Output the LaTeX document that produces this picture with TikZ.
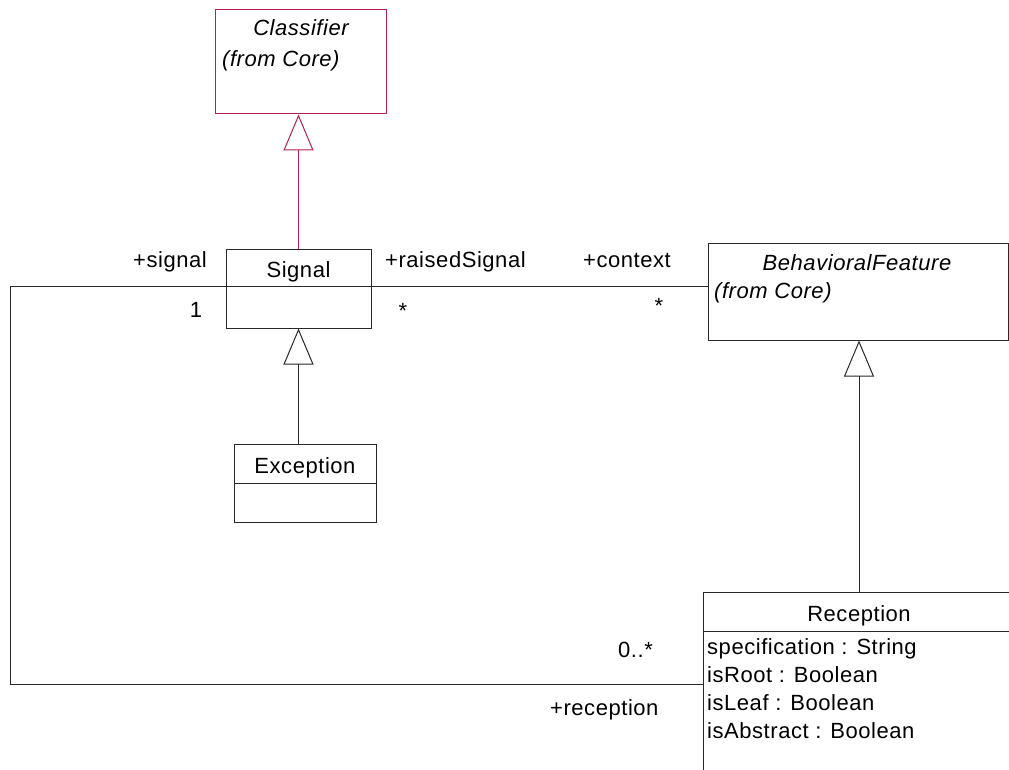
\documentclass[tikz,border=0pt]{standalone}
\usepackage{fontspec}
\setmainfont[LetterSpace=2.5]{Liberation Sans}
\usepackage{xcolor}
\usepackage{tikz}
\usetikzlibrary{arrows.meta}
\definecolor{corecol}{RGB}{185,30,85}
\definecolor{linecol}{RGB}{40,40,40}

\begin{document}
\begin{tikzpicture}[x=1pt, y=-1pt,
    every node/.style={font=\fontsize{22}{26}\selectfont},
    classbox/.style={draw=linecol, rectangle, line width=1pt, inner sep=0pt, fill=white},
    titled/.style={classbox, text height=20pt, text depth=0pt},
    role/.style={inner sep=0pt},
    assoc/.style={draw=linecol, line width=1pt},
    gen/.style={assoc, -{Triangle[open, length=36pt, width=30pt]}}]
                \clip (0,0) rectangle (1009,770);
                \node[classbox, draw=corecol, minimum width=171pt, minimum height=104pt] (classifier) at (300.5,62) {};
                \node[role, anchor=base] (classifiername) at (301,36) {\itshape Classifier};
                \node[role, anchor=base west] (classifierpkg) at (222,67) {\itshape (from Core)};
                \node[titled, minimum width=145pt, minimum height=37pt] (signal) at (298.5,267.5) {Signal};
                \node[classbox, minimum width=145pt, minimum height=42pt] (signalattr) at (298.5,307) {};
                \node[titled, minimum width=142pt, minimum height=39pt] (exception) at (305,463.5) {Exception};
                \node[classbox, minimum width=142pt, minimum height=39pt] (exceptionattr) at (305,502.5) {};
                \node[classbox, minimum width=300pt, minimum height=97pt] (behav) at (858,291.5) {};
                \node[role, anchor=base] (behavname) at (857,270) {\itshape BehavioralFeature};
                \node[role, anchor=base west] (behavpkg) at (714,298) {\itshape (from Core)};
                \node[titled, minimum width=312pt, minimum height=39pt] (reception) at (859,611.5) {Reception};
                \node[classbox, minimum width=312pt, minimum height=159pt] (receptionattr) at (859,710.5) {};
                \foreach \attr [count=\i] in {specification : String, isRoot : Boolean, isLeaf : Boolean, isAbstract : Boolean}
                    \node[role, anchor=base west] (attr\i) at (707,626+28*\i) {\attr};
                \coordinate (bendbottom) at (10,684);
                \coordinate (bendtop) at (signal.south west -| bendbottom);
                \draw[gen, draw=corecol] (signal.north) -- (signal.north |- classifier.south);
                \draw[gen] (signalattr.south |- exception.north) -- (signalattr.south);
                \draw[gen] (reception.north) -- (reception.north |- behav.south);
                \draw[assoc] (signal.south east) -- (signal.south east -| behav.west);
                \draw[assoc] (signal.south west) -- (bendtop) -- (bendbottom) -- (bendbottom -| receptionattr.west);
                \node[role, anchor=base east] (signalrole) at (207,267) {+signal};
                \node[role, anchor=base] (signalmult) at (196,317) {1};
                \node[role, anchor=base west] (raisedrole) at (385,267) {+raisedSignal};
                \node[role, anchor=base] (raisedmult) at (403,318) {*};
                \node[role, anchor=base west] (contextrole) at (583,267) {+context};
                \node[role, anchor=base] (contextmult) at (659,313) {*};
                \node[role, anchor=base west] (receptionmult) at (618,657) {0..*};
                \node[role, anchor=base west] (receptionrole) at (550,715) {+reception};
            \end{tikzpicture}
\end{document}
